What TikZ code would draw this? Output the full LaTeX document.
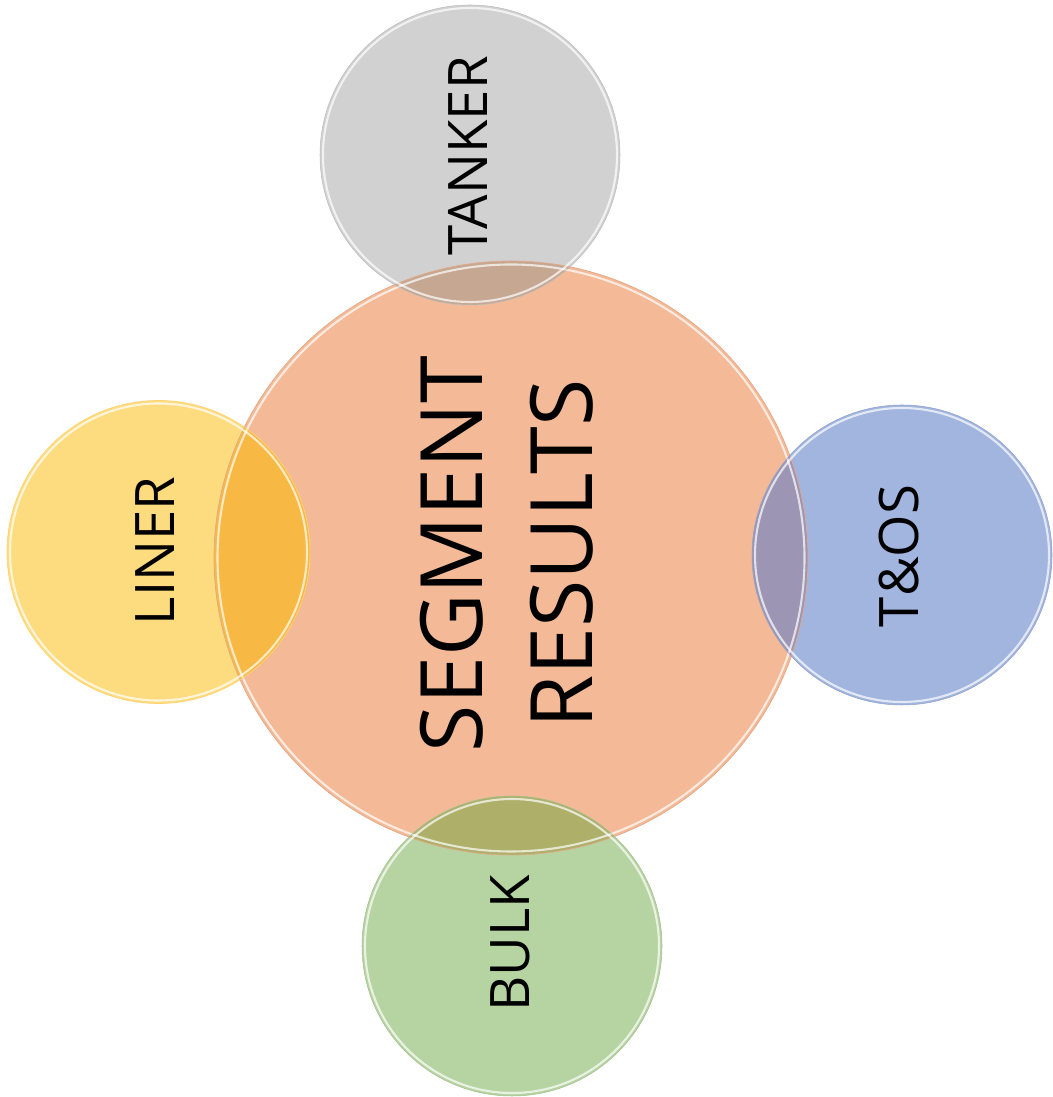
\documentclass[tikz,border=0pt]{standalone}
\usepackage{fontspec}
\setmainfont{Open Sans}

\definecolor{results-orange}{HTML}{F4B996}
\definecolor{tanker-gray}{HTML}{D1D1D1}
\definecolor{liner-yellow}{HTML}{FDDC80}
\definecolor{tos-blue}{HTML}{A2B5DF}
\definecolor{bulk-green}{HTML}{B6D4A1}
% Colours where a small circle lies over the big one.
\definecolor{tanker-mix}{HTML}{C6A792}
\definecolor{liner-mix}{HTML}{F8B944}
\definecolor{tos-mix}{HTML}{9D95B4}
\definecolor{bulk-mix}{HTML}{AEB06A}

\begin{document}
\begin{tikzpicture}

  \tikzset{
    segment-disc/.style={circle, inner sep=0pt, minimum size=6cm},
    segment-rim/.style={draw=white, line width=1.2pt, opacity=0.7},
    segment-label/.style={rotate=90, font=\fontsize{31}{37}\selectfont},
    results-label/.style={rotate=90, align=center, font=\fontsize{49}{62.4}\selectfont}
  }

  \useasboundingbox (0,0) rectangle (21.04,21.94);

  % Place the big results circle.
  \node [segment-disc, fill=results-orange, minimum size=11.88cm] (results) at (10.22, 10.78) {};

  % Place the four segment circles round it.
  \node [segment-disc, fill=tanker-gray] (tanker) at (9.40, 18.84) {};
  \node [segment-disc, fill=liner-yellow, minimum size=6.06cm] (liner) at (3.17, 10.90) {};
  \node [segment-disc, fill=tos-blue] (tos) at (18.04, 10.84) {};
  \node [segment-disc, fill=bulk-green] (bulk) at (10.24, 3.02) {};

  % Shade the parts that overlap the results circle.
  \begin{scope}
    \clip (results.center) circle (5.94);
    \fill [tanker-mix] (tanker.center) circle (3);
    \fill [liner-mix] (liner.center) circle (3.03);
    \fill [tos-mix] (tos.center) circle (3);
    \fill [bulk-mix] (bulk.center) circle (3);
  \end{scope}

  % Glossy rims.
  \draw [results-orange!92!black, line width=0.4pt] (results.center) circle (5.94);
  \draw [segment-rim] (results.center) circle (5.87);
  \draw [tanker-gray!90!black, line width=0.3pt] (tanker.center) circle (3);
  \draw [segment-rim] (tanker.center) circle (2.94);
  \draw [liner-yellow!90!orange, line width=0.4pt] (liner.center) circle (3.03);
  \draw [segment-rim] (liner.center) circle (2.97);
  \draw [tos-blue!90!black, line width=0.3pt] (tos.center) circle (3);
  \draw [segment-rim] (tos.center) circle (2.94);
  \draw [bulk-green!90!black, line width=0.3pt] (bulk.center) circle (3);
  \draw [segment-rim] (bulk.center) circle (2.94);

  % Labels.
  \node [results-label] (results-text) at (10.14, 10.86) {SEGMENT\\RESULTS};
  \node [segment-label] (tanker-text) at (9.35, 18.82) {TANKER};
  \node [segment-label] (liner-text) at (3.10, 10.92) {LINER};
  \node [segment-label] (tos-text) at (17.98, 10.82) {T\&OS};
  \node [segment-label] (bulk-text) at (10.20, 3.08) {BULK};

\end{tikzpicture}
\end{document}
